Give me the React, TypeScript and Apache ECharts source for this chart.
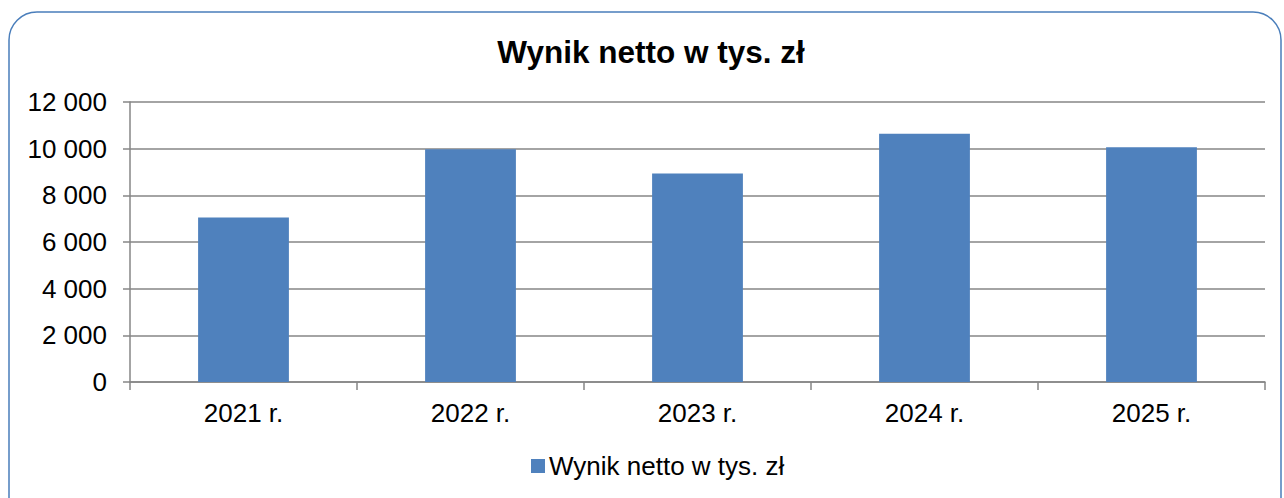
import React, { useEffect, useRef } from "react";
import * as echarts from "echarts";

const categories = ["2021 r.", "2022 r.", "2023 r.", "2024 r.", "2025 r."];
const values = [7050, 9970, 8940, 10640, 10060];
const seriesName = "Wynik netto w tys. zł";
const titleText = "Wynik netto w tys. zł";

const fmt = (v: number) => {
  const s = String(Math.round(v));
  return s.replace(/\B(?=(\d{3})+(?!\d))/g, " ");
};

export default function App() {
  const ref = useRef<HTMLDivElement>(null);
  useEffect(() => {
    if (!ref.current) return;
    const chart = echarts.init(ref.current, null, { renderer: "svg" });
    const font = "'Liberation Sans', Arial, sans-serif";
    const axisColor = "#868686";
    chart.setOption({
      animation: false,
      backgroundColor: "#ffffff",
      textStyle: { fontFamily: font },
      graphic: [
        {
          type: "rect",
          shape: { x: 9, y: 12, width: 1272, height: 530, r: 28 },
          style: { fill: "none", stroke: "#4A7EBB", lineWidth: 1.5 },
          z: 100,
        },
        {
          type: "text",
          x: 651,
          y: 52,
          style: {
            text: titleText,
            fontSize: 31.5,
            fontWeight: "bold",
            fill: "#000",
            fontFamily: font,
            align: "center",
            verticalAlign: "middle",
          },
        },
      ],
      legend: {
        bottom: 14,
        left: 526,
        icon: "rect",
        itemWidth: 14,
        itemHeight: 14,
        itemGap: 6,
        textStyle: { fontSize: 26, color: "#000", fontFamily: font, padding: [0, 0, 0, -1] },
        data: [seriesName],
      },
      grid: { left: 130, right: 19, top: 102, bottom: 116, containLabel: false },
      xAxis: {
        type: "category",
        data: categories,
        boundaryGap: true,
        axisLine: { show: true, lineStyle: { color: axisColor, width: 1.5 } },
        axisTick: { show: true, alignWithLabel: false, length: 8, lineStyle: { color: axisColor, width: 1.5 } },
        axisLabel: { fontSize: 26, color: "#000", margin: 18, fontFamily: font },
      },
      yAxis: {
        type: "value",
        min: 0,
        max: 12000,
        interval: 2000,
        axisLine: { show: true, lineStyle: { color: axisColor, width: 1.5 } },
        axisTick: { show: true, length: 7, lineStyle: { color: axisColor, width: 1.5 } },
        splitLine: { show: true, lineStyle: { color: axisColor, width: 1.5 } },
        axisLabel: { fontSize: 26, color: "#000", margin: 23, formatter: fmt, fontFamily: font },
      },
      series: [
        {
          name: seriesName,
          type: "bar",
          data: values,
          barWidth: "40%",
          itemStyle: { color: "#4F81BD" },
        },
      ],
    });
    return () => chart.dispose();
  }, []);
  return (
    <div
      ref={ref}
      style={{ position: "fixed", left: 0, top: 0, width: 1284, height: 498 }}
    />
  );
}
